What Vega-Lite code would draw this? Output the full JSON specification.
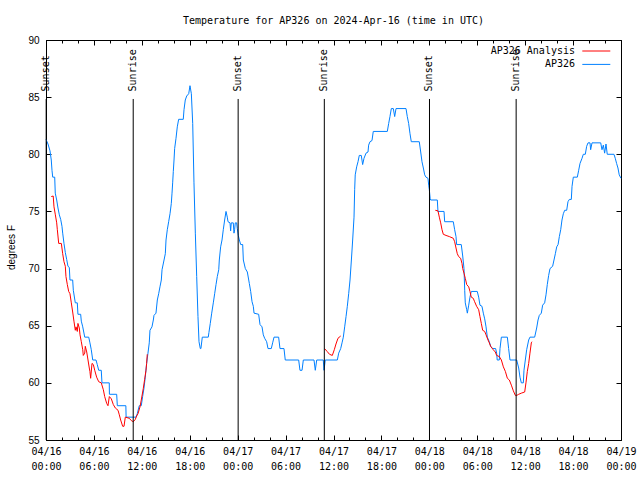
{
  "$schema": "https://vega.github.io/schema/vega-lite/v6.json",
  "width": 575,
  "height": 400,
  "autosize": {"type": "none"},
  "padding": {"left": 46, "top": 40, "right": 19, "bottom": 40},
  "background": "white",
  "title": {"text": "Temperature for AP326 on 2024-Apr-16 (time in UTC)", "font": "DejaVu Sans Mono", "fontSize": 10, "fontWeight": "normal", "color": "black", "anchor": "middle", "frame": "group", "baseline": "bottom", "offset": -1},
  "config": {
    "view": {"stroke": "black", "strokeWidth": 1},
    "axis": {"grid": false, "domain": false, "tickColor": "black", "tickWidth": 1, "labelColor": "black", "titleColor": "black"}
  },
  "datasets": {
    "ap326": [
      {"hour":0,"temp":81.3},{"hour":0.25,"temp":80.9},{"hour":0.5,"temp":80.3},{"hour":0.66,"temp":79.5},{"hour":0.75,"temp":78.6},{"hour":0.84,"temp":78.0},{"hour":1.09,"temp":78.0},{"hour":1.16,"temp":76.6},{"hour":1.34,"temp":76.0},{"hour":1.5,"temp":75.3},{"hour":1.67,"temp":74.7},{"hour":1.84,"temp":74.3},{"hour":2.0,"temp":73.7},{"hour":2.09,"temp":73.1},{"hour":2.25,"temp":72.2},{"hour":2.42,"temp":71.4},{"hour":2.59,"temp":70.8},{"hour":2.75,"temp":70.2},{"hour":2.92,"temp":70.1},{"hour":3.0,"temp":69.0},{"hour":3.34,"temp":69.0},{"hour":3.42,"temp":68.1},{"hour":3.67,"temp":67.0},{"hour":3.92,"temp":67.0},{"hour":4.0,"temp":66.0},{"hour":4.34,"temp":66.0},{"hour":4.42,"temp":65.4},{"hour":4.6,"temp":64.9},{"hour":4.85,"temp":64.0},{"hour":5.35,"temp":64.0},{"hour":5.5,"temp":63.5},{"hour":5.67,"temp":62.9},{"hour":5.85,"temp":62.0},{"hour":6.26,"temp":62.0},{"hour":6.42,"temp":61.6},{"hour":6.6,"temp":61.1},{"hour":6.92,"temp":61.1},{"hour":7.01,"temp":60.0},{"hour":7.92,"temp":60.0},{"hour":7.94,"temp":59.0},{"hour":8.85,"temp":59.0},{"hour":8.93,"temp":58.0},{"hour":10.0,"temp":58.0},{"hour":10.03,"temp":57.0},{"hour":11.27,"temp":57.0},{"hour":11.43,"temp":57.3},{"hour":11.68,"temp":58.0},{"hour":11.93,"temp":58.0},{"hour":12.1,"temp":58.8},{"hour":12.27,"temp":59.55},{"hour":12.43,"temp":60.5},{"hour":12.6,"temp":61.7},{"hour":12.77,"temp":62.6},{"hour":12.93,"temp":63.5},
      {"hour":13.02,"temp":64.6},{"hour":13.27,"temp":64.9},{"hour":13.44,"temp":65.5},{"hour":13.52,"temp":65.9},{"hour":13.77,"temp":66.1},{"hour":13.94,"temp":67.25},{"hour":14.11,"temp":67.8},{"hour":14.27,"temp":68.4},{"hour":14.44,"temp":69.0},{"hour":14.53,"temp":69.9},{"hour":14.78,"temp":70.75},{"hour":14.94,"temp":71.3},{"hour":15.03,"temp":72.5},{"hour":15.19,"temp":73.4},{"hour":15.36,"temp":74.1},{"hour":15.53,"temp":74.8},{"hour":15.69,"temp":75.7},{"hour":15.78,"temp":76.6},{"hour":15.86,"temp":77.5},{"hour":15.94,"temp":78.5},{"hour":16.03,"temp":79.5},{"hour":16.11,"temp":80.5},{"hour":16.28,"temp":81.4},{"hour":16.44,"temp":82.4},{"hour":16.61,"temp":83.06},{"hour":17.19,"temp":83.06},{"hour":17.28,"temp":83.9},{"hour":17.44,"temp":84.75},{"hour":17.62,"temp":85.1},{"hour":17.87,"temp":85.3},{"hour":18.03,"temp":86.0},{"hour":18.2,"temp":85.3},{"hour":18.37,"temp":82.7},{"hour":18.53,"temp":77.5},{"hour":18.7,"temp":73.1},{"hour":18.87,"temp":69.3},{"hour":19.03,"temp":65.8},{"hour":19.16,"temp":63.6},{"hour":19.32,"temp":63.0},{"hour":19.4,"temp":63.0},{"hour":19.57,"temp":64.0},{"hour":20.32,"temp":64.0},{"hour":20.4,"temp":64.4},{"hour":20.57,"temp":65.2},{"hour":20.75,"temp":66.1},{"hour":20.95,"temp":67.0},{"hour":21.12,"temp":67.8},{"hour":21.29,"temp":68.6},{"hour":21.45,"temp":69.3},{"hour":21.63,"temp":69.9},{"hour":21.7,"temp":70.75},{"hour":21.87,"temp":71.9},{"hour":22.04,"temp":72.5},{"hour":22.2,"temp":73.4},{"hour":22.37,"temp":74.25},{"hour":22.54,"temp":75.0},{"hour":22.7,"temp":74.5},{"hour":22.79,"temp":74.1},{"hour":23.04,"temp":74.0},{"hour":23.12,"temp":73.3},{"hour":23.2,"temp":74.0},{"hour":23.45,"temp":74.0},{"hour":23.54,"temp":73.1},{"hour":23.62,"temp":73.4},{"hour":23.7,"temp":74.0},{"hour":23.87,"temp":74.0},{"hour":23.95,"temp":73.5},{"hour":24.08,"temp":72.9},
      {"hour":24.21,"temp":72.5},{"hour":24.38,"temp":72.1},{"hour":24.63,"temp":72.1},{"hour":24.71,"temp":70.75},{"hour":24.96,"temp":70.0},{"hour":25.21,"temp":69.7},{"hour":25.46,"temp":68.7},{"hour":25.63,"temp":68.0},{"hour":25.8,"temp":67.1},{"hour":25.96,"temp":66.7},{"hour":26.05,"temp":66.1},{"hour":26.63,"temp":66.0},{"hour":26.8,"temp":65.1},{"hour":27.05,"temp":64.9},{"hour":27.21,"temp":64.2},{"hour":27.38,"temp":63.9},{"hour":27.63,"temp":63.6},{"hour":27.8,"temp":63.0},{"hour":28.21,"temp":63.0},{"hour":28.38,"temp":63.5},{"hour":28.55,"temp":64.0},{"hour":29.13,"temp":64.0},{"hour":29.3,"temp":63.0},{"hour":29.8,"temp":63.0},{"hour":29.96,"temp":62.0},{"hour":31.64,"temp":62.0},{"hour":31.8,"temp":61.1},{"hour":32.06,"temp":61.1},{"hour":32.22,"temp":62.0},{"hour":33.56,"temp":62.0},{"hour":33.72,"temp":61.1},{"hour":33.9,"temp":62.0},{"hour":34.72,"temp":62.0},{"hour":34.81,"temp":61.1},{"hour":34.97,"temp":62.0},{"hour":36.48,"temp":62.0},{"hour":36.65,"temp":62.6},{"hour":36.9,"temp":63.0},{"hour":37.07,"temp":63.5},{"hour":37.23,"temp":64.0},{"hour":37.4,"temp":64.9},{"hour":37.57,"temp":65.8},{"hour":37.73,"temp":66.7},{"hour":37.9,"temp":67.8},{"hour":38.07,"temp":69.0},{"hour":38.24,"temp":70.75},{"hour":38.4,"temp":72.5},{"hour":38.57,"temp":74.5},{"hour":38.65,"temp":76.9},{"hour":38.72,"temp":78.2},{"hour":38.9,"temp":78.9},{"hour":39.07,"temp":79.35},{"hour":39.23,"temp":79.9},{"hour":39.48,"temp":79.9},{"hour":39.65,"temp":79.1},{"hour":39.82,"temp":79.65},{"hour":40.07,"temp":80.1},{"hour":40.32,"temp":80.2},{"hour":40.4,"temp":80.8},{"hour":40.57,"temp":81.1},{"hour":40.82,"temp":81.2},{"hour":40.98,"temp":82.0},{"hour":42.74,"temp":82.0},{"hour":42.91,"temp":82.7},{"hour":43.07,"temp":83.3},{"hour":43.24,"temp":84.0},{"hour":43.49,"temp":84.0},{"hour":43.66,"temp":83.3},{"hour":43.83,"temp":84.0},{"hour":45.08,"temp":84.0},{"hour":45.24,"temp":83.3},{"hour":45.41,"temp":82.7},{"hour":45.58,"temp":81.8},{"hour":45.74,"temp":81.1},{"hour":46.74,"temp":81.1},{"hour":46.92,"temp":80.2},{"hour":47.08,"temp":79.35},{"hour":47.25,"temp":78.8},{"hour":47.42,"temp":78.2},{"hour":47.58,"temp":78.0},{"hour":47.83,"temp":77.9},{"hour":47.92,"temp":77.3},{"hour":48.0,"temp":76.9},{"hour":48.1,"temp":76.15},{"hour":48.17,"temp":76.0},
      {"hour":49.0,"temp":76.0},{"hour":49.08,"temp":75.0},{"hour":49.84,"temp":75.0},{"hour":49.92,"temp":74.1},{"hour":51.0,"temp":74.1},{"hour":51.17,"temp":73.4},{"hour":51.34,"temp":72.8},{"hour":51.42,"temp":72.1},{"hour":52.0,"temp":72.1},{"hour":52.18,"temp":71.1},{"hour":52.34,"temp":70.0},{"hour":52.43,"temp":68.1},{"hour":52.5,"temp":67.0},{"hour":52.68,"temp":66.4},{"hour":52.76,"temp":66.1},{"hour":52.93,"temp":66.8},{"hour":53.09,"temp":67.5},{"hour":53.25,"temp":68.0},{"hour":54.0,"temp":68.0},{"hour":54.18,"temp":67.5},{"hour":54.34,"temp":66.8},{"hour":54.59,"temp":66.7},{"hour":54.76,"temp":66.1},{"hour":54.93,"temp":65.6},{"hour":55.1,"temp":64.9},{"hour":55.26,"temp":64.0},{"hour":55.51,"temp":63.6},{"hour":55.68,"temp":63.2},{"hour":55.93,"temp":63.0},{"hour":56.3,"temp":63.0},{"hour":56.43,"temp":62.6},{"hour":56.5,"temp":62.0},{"hour":56.76,"temp":62.0},{"hour":56.85,"temp":63.0},{"hour":57.02,"temp":64.0},{"hour":57.77,"temp":64.0},{"hour":57.93,"temp":63.0},{"hour":58.1,"temp":62.0},{"hour":58.94,"temp":62.0},{"hour":59.19,"temp":61.3},{"hour":59.35,"temp":60.5},{"hour":59.52,"temp":60.0},{"hour":59.77,"temp":60.0},{"hour":59.85,"temp":61.1},{"hour":60.02,"temp":62.0},{"hour":60.19,"temp":62.9},{"hour":60.44,"temp":63.75},{"hour":60.6,"temp":64.0},{"hour":61.19,"temp":64.0},{"hour":61.44,"temp":64.8},{"hour":61.61,"temp":65.5},{"hour":61.77,"temp":65.9},{"hour":62.02,"temp":66.1},{"hour":62.19,"temp":66.8},{"hour":62.44,"temp":67.0},{"hour":62.61,"temp":67.7},{"hour":62.77,"temp":68.6},{"hour":62.94,"temp":69.4},{"hour":63.11,"temp":70.0},{"hour":63.44,"temp":70.2},{"hour":63.61,"temp":70.75},{"hour":63.78,"temp":71.3},{"hour":63.95,"temp":71.9},{"hour":64.12,"temp":72.1},{"hour":64.28,"temp":72.8},{"hour":64.45,"temp":73.4},{"hour":64.61,"temp":74.25},{"hour":64.78,"temp":74.8},{"hour":64.95,"temp":75.1},{"hour":65.2,"temp":75.1},{"hour":65.36,"temp":75.85},{"hour":65.53,"temp":76.05},{"hour":65.78,"temp":76.05},{"hour":65.87,"temp":77.2},{"hour":66.03,"temp":78.0},{"hour":66.53,"temp":78.0},{"hour":66.7,"temp":78.6},{"hour":66.87,"temp":79.2},{"hour":67.12,"temp":79.65},{"hour":67.28,"temp":80.0},{"hour":67.53,"temp":80.0},{"hour":67.7,"temp":80.7},{"hour":67.87,"temp":81.0},{"hour":68.12,"temp":81.0},{"hour":68.2,"temp":80.4},{"hour":68.37,"temp":81.0},{"hour":69.46,"temp":81.0},{"hour":69.62,"temp":80.4},{"hour":69.79,"temp":80.8},{"hour":69.95,"temp":80.1},{"hour":70.12,"temp":80.9},{"hour":70.28,"temp":80.0},{"hour":71.12,"temp":80.0},{"hour":71.28,"temp":79.65},{"hour":71.45,"temp":79.2},{"hour":71.62,"temp":78.8},{"hour":71.78,"temp":78.2},{"hour":72.0,"temp":77.9}
    ],
    "analysis": [
      {"seg":"a","hour":0.66,"temp":76.3},{"seg":"a","hour":0.9,"temp":76.35},{"seg":"a","hour":1.0,"temp":75.4},{"seg":"a","hour":1.17,"temp":74.7},{"seg":"a","hour":1.34,"temp":74.0},{"seg":"a","hour":1.42,"temp":73.4},{"seg":"a","hour":1.59,"temp":72.2},{"seg":"a","hour":1.92,"temp":72.2},{"seg":"a","hour":2.09,"temp":71.3},{"seg":"a","hour":2.25,"temp":70.6},{"seg":"a","hour":2.42,"temp":70.2},{"seg":"a","hour":2.5,"temp":69.3},{"seg":"a","hour":2.67,"temp":68.6},{"seg":"a","hour":2.84,"temp":68.0},{"seg":"a","hour":3.0,"temp":67.8},{"seg":"a","hour":3.17,"temp":67.0},{"seg":"a","hour":3.34,"temp":66.2},{"seg":"a","hour":3.5,"temp":65.4},{"seg":"a","hour":3.67,"temp":64.6},{"seg":"a","hour":3.76,"temp":64.9},{"seg":"a","hour":3.92,"temp":64.5},{"seg":"a","hour":4.0,"temp":65.2},{"seg":"a","hour":4.17,"temp":64.8},{"seg":"a","hour":4.26,"temp":64.2},{"seg":"a","hour":4.42,"temp":63.6},{"seg":"a","hour":4.6,"temp":62.9},{"seg":"a","hour":4.67,"temp":62.4},{"seg":"a","hour":4.85,"temp":62.6},{"seg":"a","hour":4.92,"temp":63.2},{"seg":"a","hour":5.1,"temp":62.7},{"seg":"a","hour":5.26,"temp":62.0},{"seg":"a","hour":5.42,"temp":61.3},{"seg":"a","hour":5.5,"temp":61.0},{"seg":"a","hour":5.59,"temp":60.4},{"seg":"a","hour":5.76,"temp":61.7},{"seg":"a","hour":5.93,"temp":61.6},{"seg":"a","hour":6.1,"temp":61.1},{"seg":"a","hour":6.34,"temp":60.5},{"seg":"a","hour":6.6,"temp":60.1},{"seg":"a","hour":6.92,"temp":60.0},{"seg":"a","hour":7.18,"temp":59.4},{"seg":"a","hour":7.35,"temp":58.8},{"seg":"a","hour":7.6,"temp":58.2},{"seg":"a","hour":7.76,"temp":58.0},{"seg":"a","hour":7.93,"temp":58.8},{"seg":"a","hour":8.18,"temp":58.6},{"seg":"a","hour":8.43,"temp":58.1},{"seg":"a","hour":8.68,"temp":57.8},{"seg":"a","hour":9.02,"temp":57.6},{"seg":"a","hour":9.18,"temp":57.2},{"seg":"a","hour":9.35,"temp":56.75},{"seg":"a","hour":9.6,"temp":56.2},{"seg":"a","hour":9.77,"temp":56.2},{"seg":"a","hour":9.93,"temp":57.0},{"seg":"a","hour":10.43,"temp":56.9},{"seg":"a","hour":10.68,"temp":56.7},{"seg":"a","hour":10.93,"temp":56.6},{"seg":"a","hour":11.18,"temp":56.8},{"seg":"a","hour":11.35,"temp":57.1},{"seg":"a","hour":11.52,"temp":57.3},{"seg":"a","hour":11.77,"temp":57.9},{"seg":"a","hour":11.93,"temp":58.5},{"seg":"a","hour":12.18,"temp":59.5},{"seg":"a","hour":12.35,"temp":60.3},{"seg":"a","hour":12.52,"temp":61.1},{"seg":"a","hour":12.6,"temp":61.7},{"seg":"a","hour":12.68,"temp":62.5},
      {"seg":"b","hour":34.88,"temp":63.0},{"seg":"b","hour":35.2,"temp":62.75},{"seg":"b","hour":35.5,"temp":62.5},{"seg":"b","hour":35.85,"temp":62.4},{"seg":"b","hour":36.1,"temp":62.9},{"seg":"b","hour":36.31,"temp":63.4},{"seg":"b","hour":36.56,"temp":63.9},{"seg":"b","hour":36.9,"temp":64.1},
      {"seg":"c","hour":48.75,"temp":75.1},{"seg":"c","hour":49.08,"temp":75.05},{"seg":"c","hour":49.25,"temp":74.5},{"seg":"c","hour":49.42,"temp":74.0},{"seg":"c","hour":49.59,"temp":73.4},{"seg":"c","hour":49.75,"temp":73.0},{"seg":"c","hour":50.09,"temp":72.9},{"seg":"c","hour":50.5,"temp":72.8},{"seg":"c","hour":51.0,"temp":72.65},{"seg":"c","hour":51.17,"temp":72.35},{"seg":"c","hour":51.34,"temp":71.8},{"seg":"c","hour":51.5,"temp":71.3},{"seg":"c","hour":51.67,"temp":71.05},{"seg":"c","hour":51.92,"temp":70.9},{"seg":"c","hour":52.09,"temp":70.45},{"seg":"c","hour":52.18,"temp":70.0},{"seg":"c","hour":52.34,"temp":69.6},{"seg":"c","hour":52.5,"temp":69.15},{"seg":"c","hour":52.68,"temp":68.6},{"seg":"c","hour":52.93,"temp":68.4},{"seg":"c","hour":53.09,"temp":68.0},{"seg":"c","hour":53.25,"temp":67.5},{"seg":"c","hour":53.5,"temp":67.4},{"seg":"c","hour":53.67,"temp":67.1},{"seg":"c","hour":53.92,"temp":66.7},{"seg":"c","hour":54.18,"temp":66.4},{"seg":"c","hour":54.34,"temp":65.8},{"seg":"c","hour":54.51,"temp":65.2},{"seg":"c","hour":54.68,"temp":64.6},{"seg":"c","hour":54.93,"temp":64.5},{"seg":"c","hour":55.1,"temp":64.2},{"seg":"c","hour":55.35,"temp":63.75},{"seg":"c","hour":55.51,"temp":63.5},{"seg":"c","hour":55.68,"temp":63.2},{"seg":"c","hour":56.0,"temp":62.9},{"seg":"c","hour":56.26,"temp":62.7},{"seg":"c","hour":56.43,"temp":62.4},{"seg":"c","hour":56.76,"temp":62.3},{"seg":"c","hour":57.02,"temp":62.0},{"seg":"c","hour":57.27,"temp":61.4},{"seg":"c","hour":57.52,"temp":61.0},{"seg":"c","hour":57.77,"temp":60.4},{"seg":"c","hour":58.02,"temp":60.25},{"seg":"c","hour":58.27,"temp":59.8},{"seg":"c","hour":58.52,"temp":59.3},{"seg":"c","hour":58.77,"temp":58.9},{"seg":"c","hour":58.94,"temp":58.9},{"seg":"c","hour":59.19,"temp":59.0},{"seg":"c","hour":59.52,"temp":59.1},{"seg":"c","hour":59.94,"temp":59.2},{"seg":"c","hour":60.1,"temp":60.0},{"seg":"c","hour":60.27,"temp":61.0},{"seg":"c","hour":60.44,"temp":61.7},{"seg":"c","hour":60.6,"temp":62.6},{"seg":"c","hour":60.77,"temp":63.5},{"seg":"c","hour":60.85,"temp":63.6}
    ],
    "sun": [
      {"hour":0.02,"event":"Sunset"},{"hour":10.92,"event":"Sunrise"},{"hour":24.06,"event":"Sunset"},{"hour":34.85,"event":"Sunrise"},{"hour":48.02,"event":"Sunset"},{"hour":58.87,"event":"Sunrise"}
    ]
  },
  "layer": [
    {
      "data": {"name": "ap326"},
      "mark": {"type": "line", "strokeWidth": 1},
      "encoding": {
        "x": {"field": "hour", "type": "quantitative", "scale": {"domain": [0, 72], "nice": false, "zero": false},
          "axis": {"orient": "bottom", "values": [0,6,12,18,24,30,36,42,48,54,60,66,72], "offset": -5, "tickSize": 5, "labelPadding": 6, "labelBaseline": "top",
            "labelExpr": "['04/' + (16 + floor(datum.value / 24)), (datum.value % 24 < 10 ? '0' : '') + (datum.value % 24) + ':00']",
            "labelFont": "DejaVu Sans Mono", "labelFontSize": 10, "labelLineHeight": 15, "labelFlush": false, "labelOverlap": false, "labelBound": false, "title": null}},
        "y": {"field": "temp", "type": "quantitative", "scale": {"domain": [55, 90], "nice": false, "zero": false},
          "axis": {"orient": "left", "values": [55,60,65,70,75,80,85,90], "offset": -5, "tickSize": 5, "labelPadding": 7, "labelFont": "Liberation Sans", "labelFontSize": 10, "labelFlush": false, "labelOverlap": false,
            "title": "degrees F", "titleFont": "Liberation Sans", "titleFontSize": 10, "titleFontWeight": "normal", "titleX": -40, "titleY": 207, "titleAngle": 270, "titleAlign": "center", "titleBaseline": "middle"}},
        "color": {"datum": "AP326", "type": "nominal",
          "scale": {"domain": ["AP326 Analysis", "AP326"], "range": ["#ff0000", "#0080ff"]},
          "legend": {"title": null, "orient": "none", "legendX": 544.8, "legendY": 5.5, "padding": 0, "symbolType": "M-2.8,0H2.8", "symbolSize": 100, "symbolStrokeWidth": 1,
            "labelAlign": "right", "labelOffset": -26.8, "labelFont": "DejaVu Sans Mono", "labelFontSize": 10, "labelColor": "black", "rowPadding": 2.4, "labelLimit": 200}}
      }
    },
    {
      "data": {"name": "analysis"},
      "mark": {"type": "line", "strokeWidth": 1},
      "encoding": {
        "x": {"field": "hour", "type": "quantitative",
          "axis": {"orient": "bottom", "values": [0,2,4,6,8,10,12,14,16,18,20,22,24,26,28,30,32,34,36,38,40,42,44,46,48,50,52,54,56,58,60,62,64,66,68,70,72], "offset": -3, "tickSize": 3, "labels": false, "title": null}},
        "y": {"field": "temp", "type": "quantitative",
          "axis": {"orient": "right", "values": [55,60,65,70,75,80,85,90], "offset": -5, "tickSize": 5, "labels": false, "title": null}},
        "color": {"datum": "AP326 Analysis", "type": "nominal"},
        "detail": {"field": "seg"}
      }
    },
    {
      "data": {"name": "sun"},
      "mark": {"type": "rule", "color": "black", "strokeWidth": 1},
      "encoding": {
        "x": {"field": "hour", "type": "quantitative",
          "axis": {"orient": "top", "values": [0,6,12,18,24,30,36,42,48,54,60,66,72], "offset": -5, "tickSize": 5, "labels": false, "title": null}},
        "y": {"datum": 84.84, "type": "quantitative", "axis": null},
        "y2": {"datum": 55}
      }
    },
    {
      "data": {"name": "sun"},
      "mark": {"type": "text", "angle": 270, "align": "left", "baseline": "middle", "font": "DejaVu Sans Mono", "fontSize": 10, "color": "black"},
      "encoding": {
        "x": {"field": "hour", "type": "quantitative",
          "axis": {"orient": "top", "values": [0,2,4,6,8,10,12,14,16,18,20,22,24,26,28,30,32,34,36,38,40,42,44,46,48,50,52,54,56,58,60,62,64,66,68,70,72], "offset": -3, "tickSize": 3, "labels": false, "title": null}},
        "y": {"datum": 85.5, "type": "quantitative", "axis": null},
        "text": {"field": "event"}
      }
    }
  ],
  "resolve": {"axis": {"x": "independent", "y": "independent"}}
}
